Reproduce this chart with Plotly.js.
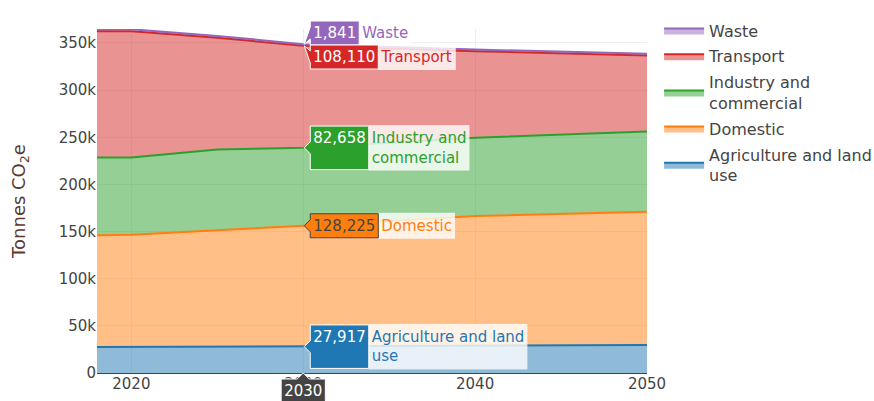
<!DOCTYPE html>
<html>
<head>
<meta charset="utf-8">
<script src="https://cdn.plot.ly/plotly-3.0.1.min.js"></script>
<style>html,body{margin:0;padding:0;background:#fff;}#chart{width:874px;height:401px;}</style>
</head>
<body>
<div id="chart"></div>
<script>
const years = [2018, 2020, 2025, 2030, 2040, 2050];
const agriculture = [27500, 27600, 27800, 27917, 28800, 29700];
const domestic = [118500, 118900, 123700, 128225, 137700, 141300];
const industry = [82500, 82000, 85500, 82658, 83000, 85000];
const transport = [134000, 134000, 118600, 108110, 91700, 80700];
const waste = [2000, 2000, 1900, 1841, 1800, 1800];
const seriesNames = ["Agriculture and land<br>use", "Domestic", "Industry and<br>commercial", "Transport", "Waste"];
const seriesValues = [agriculture, domestic, industry, transport, waste];
const colors = ["#1f77b4", "#ff7f0e", "#2ca02c", "#d62728", "#9467bd"];

const traces = seriesValues.map((vals, i) => ({
  x: years, y: vals, name: seriesNames[i], type: "scatter", mode: "lines",
  stackgroup: "one", line: {color: colors[i], width: 2},
  legendgroup: "g" + i, legendrank: 1000 + (seriesValues.length - i),
  hoverlabel: {namelength: -1}
}));

const layout = {
  width: 874, height: 401,
  margin: {l: 97, r: 227, t: 29, b: 28, autoexpand: false},
  font: {family: "DejaVu Sans, Verdana, sans-serif", size: 15, color: "#444"},
  hovermode: "x",
  hoverlabel: {namelength: -1, font: {family: "DejaVu Sans, Verdana, sans-serif", size: 15}},
  showlegend: true,
  legend: {traceorder: "grouped", font: {size: 16}, itemwidth: 40, tracegroupgap: 2,
           x: 1.022, y: 1.045, yanchor: "top"},
  xaxis: {range: [2018, 2050], tickvals: [2020, 2030, 2040, 2050], gridcolor: "#eee", showspikes: false},
  yaxis: {range: [0, 364800], hoverformat: ",.0f", gridcolor: "#eee", dtick: 50000,
          title: {text: "Tonnes CO<sub>2</sub>e", standoff: 28, font: {size: 18, color: "#5a3a2e"}}}
};

Plotly.newPlot("chart", traces, layout, {displayModeBar: false}).then(gd => {
  try {
    if (Plotly.Fx && Plotly.Fx.hover) {
      Plotly.Fx.hover(gd, {xval: 2030});
      return;
    }
  } catch (e) {}
  const xa = gd._fullLayout.xaxis, ya = gd._fullLayout.yaxis;
  const drag = gd.querySelector(".nsewdrag");
  const r = drag.getBoundingClientRect();
  const px = r.left + xa.l2p(2030);
  const py = r.top + ya.l2p(200000);
  drag.dispatchEvent(new MouseEvent("mousemove", {clientX: px, clientY: py, bubbles: true}));
});
</script>
</body>
</html>
